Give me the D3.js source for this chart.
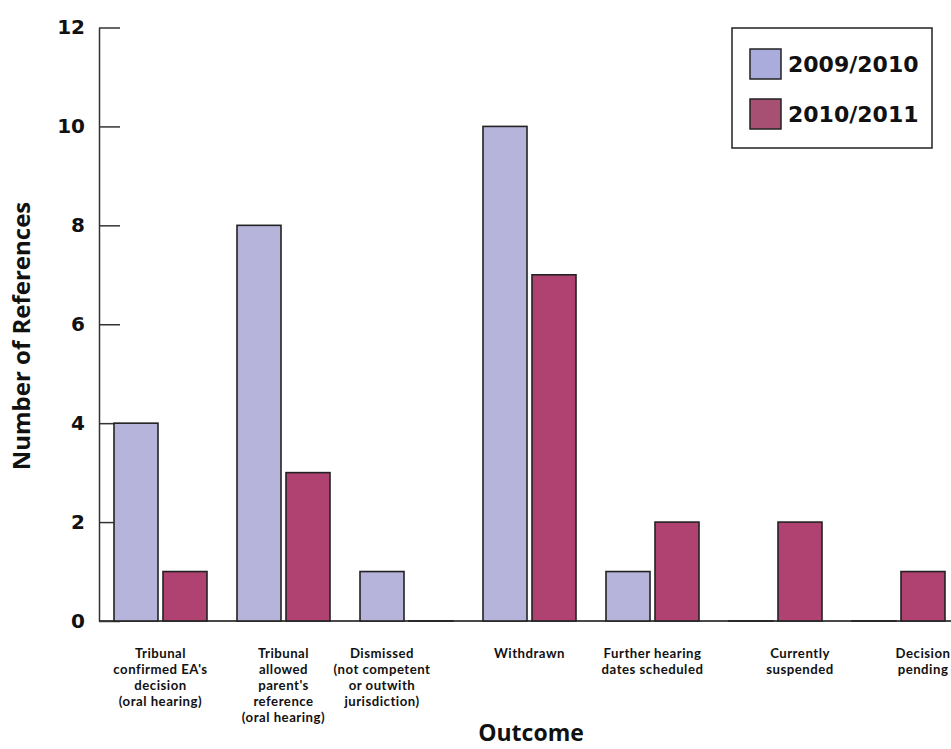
<!DOCTYPE html>
<html>
<head>
<meta charset="utf-8">
<script src="https://cdn.jsdelivr.net/npm/d3@7"></script>
<style>
  html, body { margin: 0; padding: 0; background: #fff; overflow: hidden; }
  svg { display: block; }
</style>
</head>
<body>
<svg id="chart" width="951" height="749"></svg>
<script>
// ---- data ----
const categories = [
  ["Tribunal", "confirmed EA's", "decision", "(oral hearing)"],
  ["Tribunal", "allowed", "parent's", "reference", "(oral hearing)"],
  ["Dismissed", "(not competent", "or outwith", "jurisdiction)"],
  ["Withdrawn"],
  ["Further hearing", "dates scheduled"],
  ["Currently", "suspended"],
  ["Decision", "pending"]
];
const categoryKeys = categories.map((c, i) => "c" + i);
const seriesNames = ["2009/2010", "2010/2011"];
const values2009 = [4, 8, 1, 10, 1, 0, 0];
const values2010 = [1, 3, 0, 7, 2, 2, 1];
const seriesValues = [values2009, values2010];
const yTicks = [0, 2, 4, 6, 8, 10, 12];
const colors = ["#b7b4db", "#b04271"];
const legendColors = ["#aaaddb", "#a84f74"];

// ---- layout ----
const svg = d3.select("#chart");
const baseY = 621, topY = 27.5, axisX = 99;

const y = d3.scaleLinear().domain([0, 12]).range([baseY, topY]);
const x0 = d3.scaleBand().domain(categoryKeys).range([114, 945])
  .paddingInner(30 / 123).paddingOuter(0);
const x1 = d3.scaleBand().domain(seriesNames).range([0, x0.bandwidth()])
  .paddingInner(5 / 49).paddingOuter(0);

// x axis baseline
svg.append("line")
  .attr("x1", axisX).attr("x2", 951)
  .attr("y1", baseY).attr("y2", baseY)
  .attr("stroke", "#4a4a4a").attr("stroke-width", 2);

// y axis
const yAxis = d3.axisLeft(y).tickValues(yTicks).tickSizeInner(-21).tickSizeOuter(0).tickPadding(14);
const gy = svg.append("g").attr("transform", `translate(${axisX},0)`).call(yAxis);
gy.select(".domain").attr("stroke", "#333").attr("stroke-width", 1.5);
gy.selectAll(".tick line").attr("stroke", "#333").attr("stroke-width", 1.5);
gy.selectAll(".tick text")
  .attr("font-family", "DejaVu Sans, Verdana, sans-serif")
  .attr("font-weight", "bold").attr("font-size", 20).attr("fill", "#111");

// bars
const groups = svg.append("g").selectAll("g")
  .data(categoryKeys).join("g")
  .attr("transform", d => `translate(${x0(d)},0)`);

groups.selectAll("rect")
  .data((d, i) => seriesNames.map((s, k) => ({ s, k, v: seriesValues[k][i] })))
  .join("rect")
  .attr("x", d => x1(d.s))
  .attr("width", x1.bandwidth())
  .attr("y", d => y(d.v))
  .attr("height", d => Math.max(baseY - y(d.v), 0.01))
  .attr("fill", d => colors[d.k])
  .attr("stroke", "#222")
  .attr("stroke-width", 1.6);

// category labels, centred over the non-zero bars of each group
const labelG = svg.append("g")
  .attr("font-family", "Lato, sans-serif")
  .attr("font-weight", "bold").attr("font-size", 13.2).attr("fill", "#111")
  .attr("letter-spacing", 0.5)
  .attr("text-anchor", "middle");
categories.forEach((lines, i) => {
  const key = categoryKeys[i];
  const shown = seriesNames.filter((s, k) => seriesValues[k][i] > 0);
  const left = d3.min(shown, s => x0(key) + x1(s));
  const right = d3.max(shown, s => x0(key) + x1(s) + x1.bandwidth());
  const cx = (left + right) / 2;
  lines.forEach((ln, j) => {
    labelG.append("text").attr("x", cx).attr("y", 658 + j * 16).text(ln);
  });
});

// axis titles
svg.append("text")
  .attr("x", 531).attr("y", 741)
  .attr("text-anchor", "middle")
  .attr("font-family", "Open Sans, sans-serif")
  .attr("font-weight", "bold").attr("font-size", 23).attr("fill", "#111")
  .text("Outcome");

svg.append("text")
  .attr("transform", "translate(30,336) rotate(-90)")
  .attr("text-anchor", "middle")
  .attr("font-family", "Open Sans, sans-serif")
  .attr("font-weight", "bold").attr("font-size", 24).attr("fill", "#111")
  .text("Number of References");

// legend
const lg = svg.append("g");
lg.append("rect")
  .attr("x", 732).attr("y", 28).attr("width", 200).attr("height", 120)
  .attr("fill", "#fff").attr("stroke", "#222").attr("stroke-width", 1.5);
seriesNames.forEach((s, k) => {
  lg.append("rect")
    .attr("x", 750).attr("y", 49 + k * 50).attr("width", 31).attr("height", 30)
    .attr("fill", legendColors[k]).attr("stroke", "#222").attr("stroke-width", 1.5);
  lg.append("text")
    .attr("x", 788).attr("y", 64 + k * 50).attr("dy", "0.36em")
    .attr("font-family", "DejaVu Sans, Verdana, sans-serif")
    .attr("font-weight", "bold").attr("font-size", 22).attr("fill", "#111")
    .text(s);
});
</script>
</body>
</html>
